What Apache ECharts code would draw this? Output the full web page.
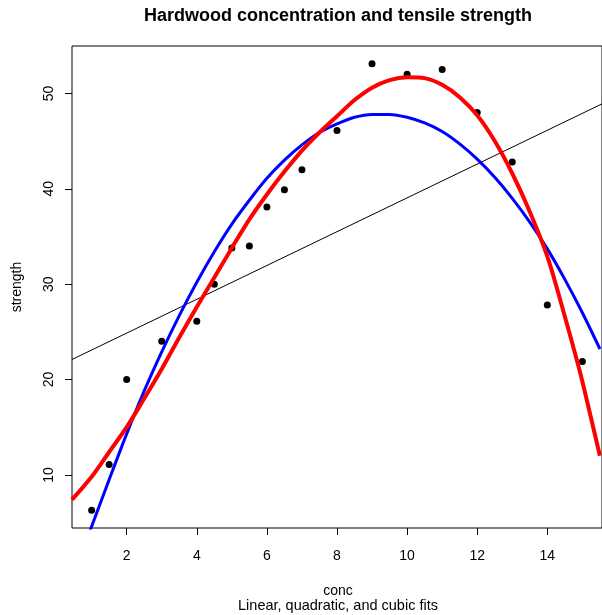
<!DOCTYPE html>
<html>
<head>
<meta charset="utf-8">
<script src="https://cdn.jsdelivr.net/npm/echarts@6/dist/echarts.min.js"></script>
<style>
  html, body { margin: 0; padding: 0; background: #fff; }
  #chart { width: 602px; height: 615px; }
</style>
</head>
<body>
<div id="chart"></div>
<script>
// observed data
const conc = [1, 1.5, 2, 3, 4, 4.5, 5, 5.5, 6, 6.5, 7, 8, 9, 10, 11, 12, 13, 14, 15];
const strength = [6.3, 11.1, 20.0, 24.0, 26.1, 30.0, 33.8, 34.0, 38.1, 39.9, 42.0, 46.1, 53.1, 52.0, 52.5, 48.0, 42.8, 27.8, 21.9];

// fitted lines
const linearX = [0.44, 15.56];
const linearY = [22.1, 48.9];

const quadX = [0.95, 1.5, 2, 2.5, 3, 3.5, 4, 4.5, 5, 5.5, 6, 6.5, 7, 7.5, 8, 8.5, 9, 9.5, 10, 10.5, 11, 11.5, 12, 12.5, 13, 13.5, 14, 14.5, 15, 15.5];
const quadY = [4.1, 9.5, 14.3, 18.8, 22.9, 26.7, 30.2, 33.4, 36.3, 38.8, 41.1, 43.0, 44.6, 45.9, 46.8, 47.5, 47.8, 47.8, 47.5, 46.9, 46.0, 44.7, 43.1, 41.2, 39.0, 36.5, 33.7, 30.5, 27.0, 23.2];

const cubicX = [0.44, 1, 1.5, 2, 2.5, 3, 3.5, 4, 4.5, 5, 5.5, 6, 6.5, 7, 7.5, 8, 8.5, 9, 9.5, 10, 10.5, 11, 11.5, 12, 12.5, 13, 13.5, 14, 14.5, 15, 15.5];
const cubicY = [7.4, 9.8, 12.4, 15.0, 18.0, 21.1, 24.4, 27.6, 30.7, 33.8, 36.8, 39.4, 41.8, 44.0, 45.9, 47.6, 49.3, 50.6, 51.4, 51.7, 51.6, 50.9, 49.6, 47.7, 45.0, 41.6, 37.6, 32.9, 26.6, 19.8, 12.0];

const xTicks = [2, 4, 6, 8, 10, 12, 14];
const yTicks = [10, 20, 30, 40, 50];

const FONT = '"Liberation Sans", Arial, sans-serif';

const zip = (xs, ys) => xs.map((x, i) => [x, ys[i]]);

const chart = echarts.init(document.getElementById('chart'));
chart.setOption({
  animation: false,
  backgroundColor: '#fff',
  textStyle: { fontFamily: FONT },
  grid: {
    left: 72, top: 46, width: 532, height: 482,
    show: true, borderColor: '#000', borderWidth: 1,
    containLabel: false
  },
  xAxis: {
    type: 'value',
    min: 0.44,
    max: 15.56,
    splitLine: { show: false },
    axisLine: { show: false },
    axisTick: { show: true, length: 7, customValues: xTicks, lineStyle: { color: '#000' } },
    axisLabel: { customValues: xTicks, margin: 21, fontSize: 14, color: '#000', fontFamily: FONT }
  },
  yAxis: {
    type: 'value',
    min: 4.43,
    max: 54.97,
    splitLine: { show: false },
    axisLine: { show: false },
    axisTick: { show: true, length: 7, customValues: yTicks, lineStyle: { color: '#000' } },
    axisLabel: { customValues: yTicks, rotate: 90, margin: 16, fontSize: 14, color: '#000', fontFamily: FONT }
  },
  graphic: [
    {
      type: 'text', x: 338, y: 16,
      style: { text: 'Hardwood concentration and tensile strength', align: 'center', verticalAlign: 'middle',
        font: 'bold 18px ' + FONT, fill: '#000' }
    },
    {
      type: 'text', x: 338, y: 591,
      style: { text: 'conc', align: 'center', verticalAlign: 'middle', font: '14px ' + FONT, fill: '#000' }
    },
    {
      type: 'text', x: 338, y: 606,
      style: { text: 'Linear, quadratic, and cubic fits', align: 'center', verticalAlign: 'middle',
        font: '14.5px ' + FONT, fill: '#000' }
    },
    {
      type: 'text', x: 17, y: 287, rotation: Math.PI / 2,
      style: { text: 'strength', align: 'center', verticalAlign: 'middle', font: '14px ' + FONT, fill: '#000' }
    }
  ],
  series: [
    {
      type: 'scatter',
      data: zip(conc, strength),
      symbol: 'circle',
      symbolSize: 7,
      itemStyle: { color: '#000', opacity: 1 },
      z: 2
    },
    {
      type: 'line',
      data: zip(linearX, linearY),
      showSymbol: false,
      lineStyle: { color: '#000', width: 1 },
      z: 3
    },
    {
      type: 'line',
      data: zip(quadX, quadY),
      showSymbol: false,
      smooth: 0.3,
      clip: true,
      lineStyle: { color: '#0000ff', width: 3 },
      z: 4
    },
    {
      type: 'line',
      data: zip(cubicX, cubicY),
      showSymbol: false,
      smooth: 0.3,
      clip: true,
      lineStyle: { color: '#ff0000', width: 4 },
      z: 5
    }
  ]
});
</script>
</body>
</html>
